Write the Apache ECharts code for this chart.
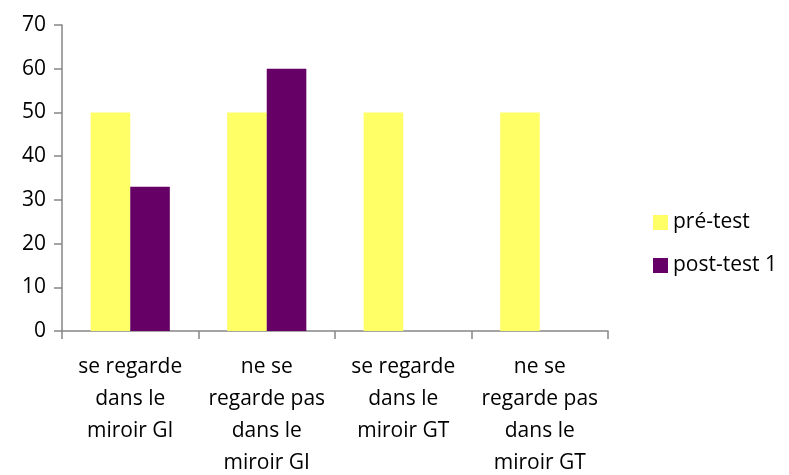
<!DOCTYPE html>
<html>
<head>
<meta charset="utf-8">
<script src="https://cdn.jsdelivr.net/npm/echarts@6/dist/echarts.min.js"></script>
<style>
  html, body { margin: 0; padding: 0; background: #fff; }
  #chart { width: 789px; height: 475px; }
</style>
</head>
<body>
<div id="chart"></div>
<script>
// catégories et valeurs
const categories = [
  'se regarde\ndans le\nmiroir GI',
  'ne se\nregarde pas\ndans le\nmiroir GI',
  'se regarde\ndans le\nmiroir GT',
  'ne se\nregarde pas\ndans le\nmiroir GT'
]
const preTest = [50, 50, 50, 50]
const postTest1 = [33, 60, null, null]
const seriesNames = ['pré-test', 'post-test 1']

const font = '"Open Sans", "Liberation Sans", sans-serif'
const axisColor = '#868686'

let myChart = echarts.init(document.getElementById('chart'))
myChart.setOption({
  animation: false,
  color: ['#FFFF66', '#660066'],
  textStyle: { fontFamily: font },
  grid: { left: 62, right: 181, top: 25, bottom: 144, containLabel: false, outerBoundsMode: 'none' },
  legend: {
    orient: 'vertical',
    left: 648,
    top: 207,
    itemWidth: 15,
    itemHeight: 15,
    itemGap: 22,
    icon: 'rect',
    textStyle: { fontSize: 21, color: '#000', fontFamily: font },
    data: seriesNames
  },
  xAxis: {
    type: 'category',
    data: categories,
    axisLine: { lineStyle: { color: axisColor, width: 1.5 } },
    axisTick: { show: true, length: 8, alignWithLabel: false, lineStyle: { color: axisColor, width: 1.5 } },
    axisLabel: {
      interval: 0,
      color: '#000',
      fontSize: 21,
      lineHeight: 32,
      margin: 20,
      fontFamily: font
    }
  },
  yAxis: {
    type: 'value',
    min: 0,
    max: 70,
    interval: 10,
    splitLine: { show: false },
    axisLine: { show: true, lineStyle: { color: axisColor, width: 1.5 } },
    axisTick: { show: true, length: 8, lineStyle: { color: axisColor, width: 1.5 } },
    axisLabel: { color: '#000', fontSize: 21, margin: 16, fontFamily: font }
  },
  series: [
    {
      name: seriesNames[0],
      type: 'bar',
      data: preTest,
      barGap: '0%',
      barCategoryGap: '42%'
    },
    {
      name: seriesNames[1],
      type: 'bar',
      data: postTest1,
      barGap: '0%',
      barCategoryGap: '42%'
    }
  ]
})
</script>
</body>
</html>
